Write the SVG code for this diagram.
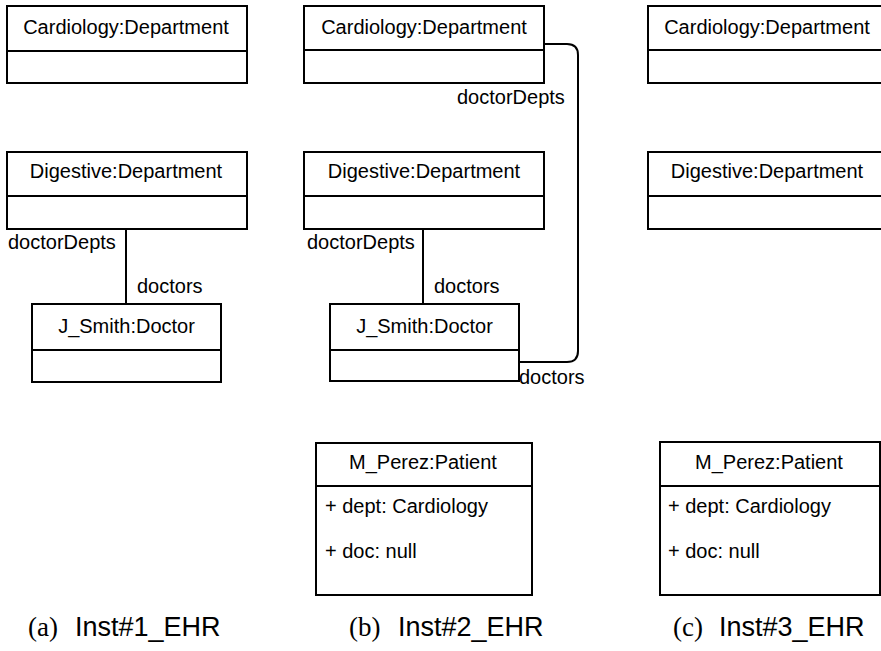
<svg xmlns="http://www.w3.org/2000/svg" width="881" height="651" viewBox="0 0 881 651">
<style>
.box{fill:#fff;stroke:#000;stroke-width:2}
.div{stroke:#000;stroke-width:2}
.t{font-family:"Liberation Sans",Arial,Helvetica,sans-serif;font-size:20px;fill:#000}
.c{text-anchor:middle}
.conn{fill:none;stroke:#000;stroke-width:2}
.cap{font-family:"Liberation Sans",Arial,sans-serif;font-size:27px;fill:#000}
.capl{font-family:"Liberation Serif","DejaVu Serif",serif;font-size:27px;fill:#000}
</style>
<rect width="881" height="651" fill="#fff"/>
<g id="connectors">
<line class="conn" x1="126" y1="229" x2="126" y2="304"/>
<line class="conn" x1="423" y1="229" x2="423" y2="304"/>
<path class="conn" d="M544,44 H567 Q578,44 578,55 V351 Q578,362 567,362 H519"/>
<text class="t" x="8" y="249">doctorDepts</text>
<text class="t" x="137" y="293">doctors</text>
<text class="t" x="307" y="249">doctorDepts</text>
<text class="t" x="434" y="293">doctors</text>
<text class="t" x="457" y="104">doctorDepts</text>
<text class="t" x="519" y="384">doctors</text>
</g>
<g id="a_cardiology">
<rect class="box" x="7" y="6" width="240" height="77"/>
<line class="div" x1="7" y1="51" x2="247" y2="51"/>
<text class="t c" x="126" y="34">Cardiology:Department</text>
</g>
<g id="a_digestive">
<rect class="box" x="7" y="152" width="240" height="77"/>
<line class="div" x1="7" y1="196" x2="247" y2="196"/>
<text class="t c" x="126" y="178">Digestive:Department</text>
</g>
<g id="a_jsmith">
<rect class="box" x="32" y="304" width="189" height="78"/>
<line class="div" x1="32" y1="350" x2="221" y2="350"/>
<text class="t c" x="126.5" y="333">J_Smith:Doctor</text>
</g>
<g id="b_cardiology">
<rect class="box" x="304" y="6" width="240" height="77"/>
<line class="div" x1="304" y1="50" x2="544" y2="50"/>
<text class="t c" x="424" y="34">Cardiology:Department</text>
</g>
<g id="b_digestive">
<rect class="box" x="304" y="152" width="240" height="77"/>
<line class="div" x1="304" y1="196" x2="544" y2="196"/>
<text class="t c" x="424" y="178">Digestive:Department</text>
</g>
<g id="b_jsmith">
<rect class="box" x="330" y="304" width="189" height="77"/>
<line class="div" x1="330" y1="350" x2="519" y2="350"/>
<text class="t c" x="424.5" y="333">J_Smith:Doctor</text>
</g>
<g id="b_patient">
<rect class="box" x="316" y="443" width="216" height="152"/>
<line class="div" x1="316" y1="486" x2="532" y2="486"/>
<text class="t c" x="423" y="469">M_Perez:Patient</text>
<text class="t" x="325" y="513">+ dept: Cardiology</text>
<text class="t" x="325" y="558">+ doc: null</text>
</g>
<g id="c_cardiology">
<rect class="box" x="648" y="6" width="240" height="77"/>
<line class="div" x1="648" y1="50" x2="888" y2="50"/>
<text class="t c" x="767" y="34">Cardiology:Department</text>
</g>
<g id="c_digestive">
<rect class="box" x="648" y="152" width="240" height="77"/>
<line class="div" x1="648" y1="196" x2="888" y2="196"/>
<text class="t c" x="767" y="178">Digestive:Department</text>
</g>
<g id="c_patient">
<rect class="box" x="660" y="442" width="220" height="153"/>
<line class="div" x1="660" y1="486" x2="880" y2="486"/>
<text class="t c" x="769" y="469">M_Perez:Patient</text>
<text class="t" x="668" y="513">+ dept: Cardiology</text>
<text class="t" x="668" y="558">+ doc: null</text>
</g>
<g id="captions">
<text class="capl" x="28" y="636">(a)</text>
<text class="cap" x="75" y="636">Inst#1_EHR</text>
<text class="capl" x="349" y="636">(b)</text>
<text class="cap" x="398" y="636">Inst#2_EHR</text>
<text class="capl" x="673" y="636">(c)</text>
<text class="cap" x="719" y="636">Inst#3_EHR</text>
</g>
</svg>
